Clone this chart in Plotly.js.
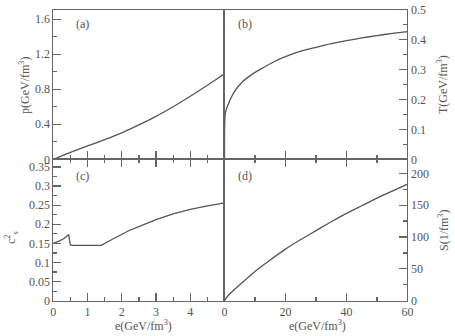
<!DOCTYPE html>
<html><head><meta charset="utf-8">
<script src="https://cdn.plot.ly/plotly-3.0.1.min.js"></script>
<style>html,body{margin:0;padding:0;background:#fff}#plot{width:455px;height:336px}</style>
</head><body><div id="plot"></div>
<script>
// (a) pressure vs energy density
const eA = [0, 0.5, 1, 1.5, 2, 2.5, 3, 3.5, 4, 4.5, 5];
const pA = [0, 0.078, 0.152, 0.225, 0.302, 0.392, 0.49, 0.6, 0.72, 0.845, 0.975];
// (b) temperature vs energy density
const eB = [0, 0.02, 0.1, 0.3, 0.7, 1.5, 2.2, 3, 4.5, 6, 8, 10, 12, 15, 17.5, 20, 25, 30, 35, 40, 45, 50, 55, 60];
const tB = [0, 0.09, 0.13, 0.155, 0.17, 0.19, 0.206, 0.222, 0.243, 0.26, 0.276, 0.29, 0.302, 0.319, 0.332, 0.343, 0.361, 0.374, 0.386, 0.396, 0.405, 0.413, 0.420, 0.426];
// (c) speed of sound squared vs energy density
const eC = [0, 0.1, 0.2, 0.3, 0.4, 0.45, 0.47, 0.5, 0.55, 1.0, 1.4, 1.6, 1.8, 2.0, 2.2, 2.5, 3.0, 3.5, 4.0, 4.5, 5.0];
const cC = [0.150, 0.153, 0.157, 0.162, 0.168, 0.173, 0.160, 0.146, 0.145, 0.145, 0.145, 0.155, 0.165, 0.175, 0.183, 0.194, 0.212, 0.227, 0.239, 0.248, 0.256];
// (d) entropy density vs energy density
const eD = [0, 1, 2, 5, 10, 15, 20, 25, 30, 35, 40, 45, 50, 55, 60];
const sD = [0, 7, 12, 25, 46, 64, 81, 96, 110, 124, 137, 149, 161, 172, 183];

const xTicksLeft = [0, 1, 2, 3, 4, 5];
const xTextLeft = ['0', '1', '2', '3', '4', ''];
const xTicksRight = [0, 20, 40, 60];
const cTicks = [0, 0.05, 0.1, 0.15, 0.2, 0.25, 0.3, 0.35];
const cText = ['0', '0.05', '0.1', '0.15', '0.2', '0.25', '0.3', '0.35'];

const FONT = 'Liberation Serif, Times New Roman, serif';
const TXT = '#555';
const LINE = '#666';
const CURVE = '#555';

const L0 = 0.1172, L1 = 0.4934, R1 = 0.8956;
const B0 = 0.1051, M = 0.5259, T1 = 0.9717;

function ax(extra) {
  return Object.assign({
    showline: true, linecolor: LINE, linewidth: 1, mirror: true,
    ticks: 'inside', ticklen: 8, tickwidth: 1.2, tickcolor: LINE,
    showgrid: false, zeroline: false, automargin: false,
    tickfont: {family: FONT, size: 12, color: TXT},
    ticklabelstandoff: 0
  }, extra);
}
function minor(d) { return {dtick: d, ticks: 'inside', ticklen: 4, tickwidth: 1.2, tickcolor: LINE, showgrid: false}; }

const lineStyle = {color: CURVE, width: 1.3, shape: 'spline', smoothing: 0.6};
const data = [
  {x: eA, y: pA, xaxis: 'x', yaxis: 'y', mode: 'lines', line: lineStyle, hoverinfo: 'skip'},
  {x: eB, y: tB, xaxis: 'x2', yaxis: 'y2', mode: 'lines', line: lineStyle, hoverinfo: 'skip'},
  {x: eC, y: cC, xaxis: 'x3', yaxis: 'y3', mode: 'lines', line: {color: CURVE, width: 1.3}, hoverinfo: 'skip'},
  {x: eD, y: sD, xaxis: 'x4', yaxis: 'y4', mode: 'lines', line: lineStyle, hoverinfo: 'skip'}
];

function ann(text, x, y, angle, size) {
  return {text: text, x: x / 455, y: 1 - y / 336, xref: 'paper', yref: 'paper',
    showarrow: false, textangle: angle || 0, xanchor: 'center', yanchor: 'middle',
    font: {family: FONT, size: size || 12, color: TXT}};
}

const layout = {
  width: 455, height: 336, margin: {l: 0, r: 0, t: 0, b: 0},
  paper_bgcolor: '#fff', plot_bgcolor: '#fff', showlegend: false,
  xaxis: ax({domain: [L0, L1], anchor: 'y', range: [0, 5], dtick: 1, tick0: 0, showticklabels: false, minor: minor(0.5)}),
  yaxis: ax({domain: [M, T1], anchor: 'x', range: [0, 1.71], dtick: 0.4, tick0: 0, minor: minor(0.2)}),
  xaxis2: ax({domain: [L1, R1], anchor: 'y2', range: [0, 60], dtick: 20, tick0: 0, showticklabels: false, minor: minor(10)}),
  yaxis2: ax({domain: [M, T1], anchor: 'x2', side: 'right', range: [0, 0.5], dtick: 0.1, tick0: 0, minor: minor(0.05)}),
  xaxis3: ax({domain: [L0, L1], anchor: 'y3', range: [0, 5], tickmode: 'array', tickvals: xTicksLeft, ticktext: xTextLeft, mirror: 'ticks', minor: Object.assign(minor(0.5), {tick0: 0})}),
  yaxis3: ax({domain: [B0, M], anchor: 'x3', range: [0, 0.37], tickmode: 'array', tickvals: cTicks, ticktext: cText, minor: Object.assign(minor(0.025), {tick0: 0})}),
  xaxis4: ax({domain: [L1, R1], anchor: 'y4', range: [0, 60], tickmode: 'array', tickvals: xTicksRight, mirror: 'ticks', minor: Object.assign(minor(10), {tick0: 0})}),
  yaxis4: ax({domain: [B0, M], anchor: 'x4', side: 'right', range: [0, 222], dtick: 50, tick0: 0, minor: minor(25)}),
  annotations: [
    ann('(a)', 82, 24), ann('(b)', 245, 24), ann('(c)', 82, 176), ann('(d)', 245, 176),
    ann('p(GeV/fm<sup>3</sup>)', 24, 85, -90),
    ann('T(GeV/fm<sup>3</sup>)', 442, 85, -90),
    ann('c<sup>2</sup><sub>s</sub>', 11, 238, -90),
    ann('S(1/fm<sup>3</sup>)', 443, 230, -90),
    ann('e(GeV/fm<sup>3</sup>)', 143, 325),
    ann('e(GeV/fm<sup>3</sup>)', 317, 325)
  ]
};

Plotly.newPlot('plot', data, layout, {staticPlot: true, displayModeBar: false});
</script>
</body></html>
